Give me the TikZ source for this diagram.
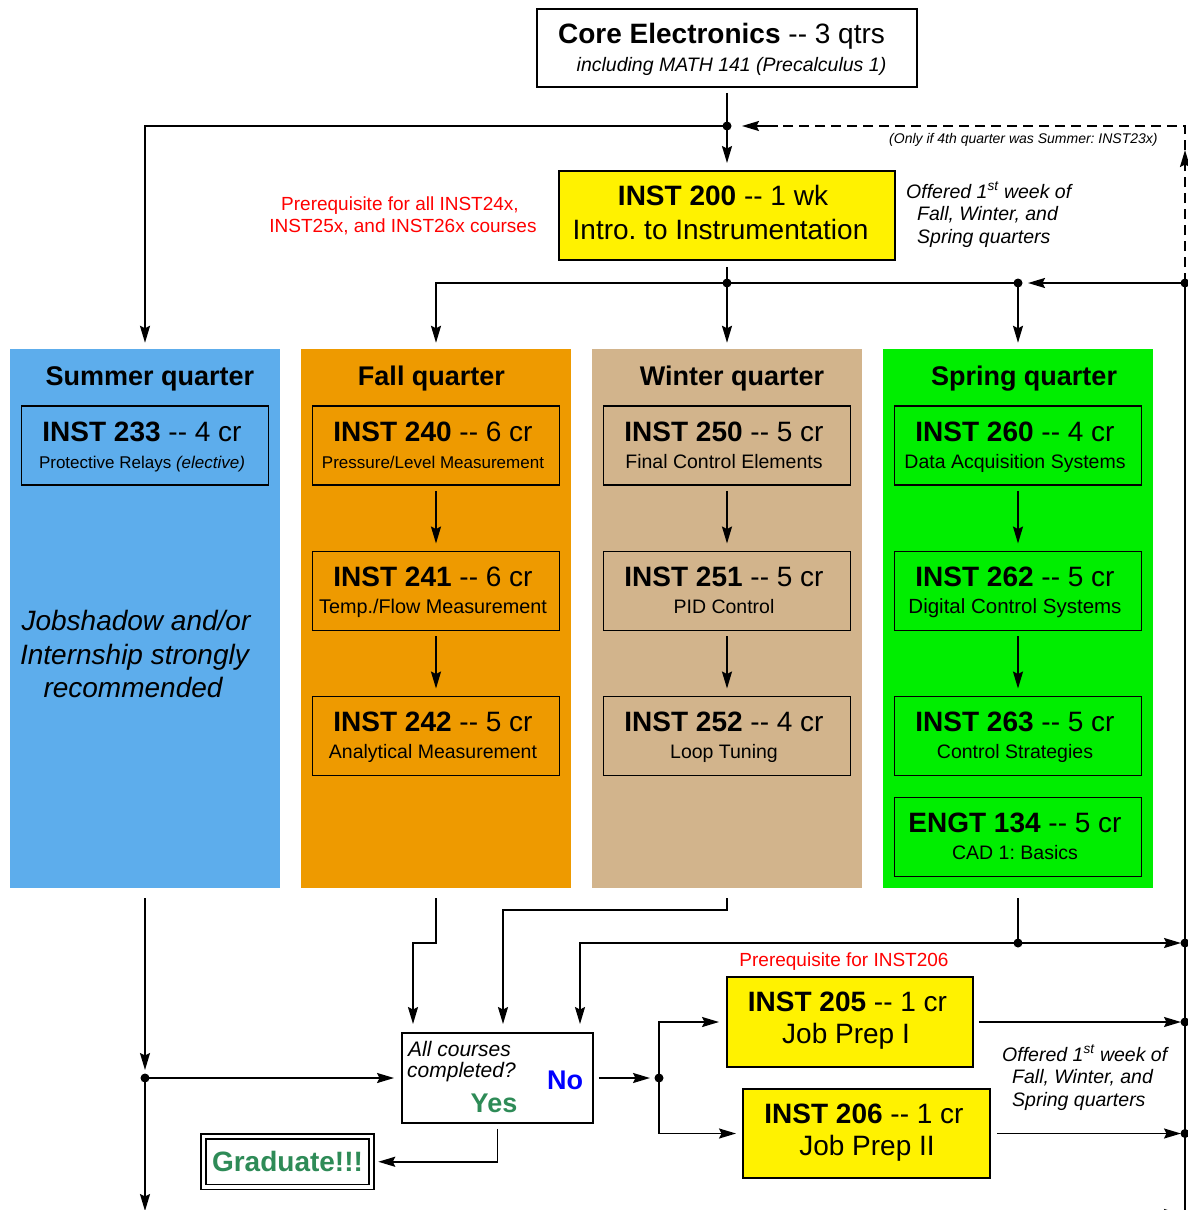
\documentclass[tikz,border=0pt]{standalone}
\usepackage{fontspec}
\setmainfont{Liberation Sans}
\usetikzlibrary{arrows.meta}
\definecolor{sumblue}{HTML}{5DADEC}
\definecolor{fallor}{HTML}{EE9A00}
\definecolor{wintan}{HTML}{D2B48C}
\definecolor{sprgr}{HTML}{00EE00}
\definecolor{yesgr}{HTML}{2E8B57}
\newcommand\fsz[1]{\fontsize{#1}{#1}\selectfont}
\newcommand\ddash{\mbox{-}\mbox{-}}
\newcommand\course[6]{%
  \node[crs] (#1) at (#2,#3) {};
  \path (#1.center) ++(-3,-4.5) node[txt] (#1a) {\fsz{28}\textbf{#4} \ddash{} #5};
  \path (#1.center) ++(-3,22.5) node[txt] (#1b) {#6};}
\frenchspacing
\begin{document}
\frenchspacing
\begin{tikzpicture}[x=1pt,y=-1pt,
  ln/.style={line width=1.9pt},
  arr/.style={line width=1.9pt,-{Stealth[length=17pt,width=10pt,inset=2.5pt]}},
  dsh/.style={line width=1.9pt,dash pattern=on 10pt off 6pt},
  box/.style={draw,line width=1.9pt,inner sep=0pt},
  col/.style={inner sep=0pt,minimum width=270pt,minimum height=539pt},
  crs/.style={box,minimum width=247pt,minimum height=79pt},
  txt/.style={inner sep=0pt,anchor=base},
  txtl/.style={inner sep=0pt,anchor=base west},
  ]
\useasboundingbox[fill=white] (0,0) rectangle (1187,1210);

% columns
\node[col,fill=sumblue] (sum) at (145,618.5) {};
\node[col,fill=fallor] (fal) at (436,618.5) {};
\node[col,fill=wintan] (win) at (727,618.5) {};
\node[col,fill=sprgr] (spr) at (1018,618.5) {};
\node[txt] (hsum) at (150,385) {\fsz{27}\bfseries Summer quarter};
\node[txt] (hfal) at (431.5,385) {\fsz{27}\bfseries Fall quarter};
\node[txt] (hwin) at (732,385) {\fsz{27}\bfseries Winter quarter};
\node[txt] (hspr) at (1024,385) {\fsz{27}\bfseries Spring quarter};

% course boxes
\course{i233}{145}{445.5}{INST 233}{4 cr}{\fsz{17}Protective Relays \textit{(elective)}}
\course{i240}{436}{445.5}{INST 240}{6 cr}{\fsz{17}Pressure/Level Measurement}
\course{i241}{436}{591}{INST 241}{6 cr}{\fsz{19.8}Temp./Flow Measurement}
\course{i242}{436}{736}{INST 242}{5 cr}{\fsz{19.5}Analytical Measurement}
\course{i250}{727}{445.5}{INST 250}{5 cr}{\fsz{19.5}Final Control Elements}
\course{i251}{727}{591}{INST 251}{5 cr}{\fsz{19.5}PID Control}
\course{i252}{727}{736}{INST 252}{4 cr}{\fsz{19.5}Loop Tuning}
\course{i260}{1018}{445.5}{INST 260}{4 cr}{\fsz{19.5}Data Acquisition Systems}
\course{i262}{1018}{591}{INST 262}{5 cr}{\fsz{20.5}Digital Control Systems}
\course{i263}{1018}{736}{INST 263}{5 cr}{\fsz{19.5}Control Strategies}
\course{e134}{1018}{837}{ENGT 134}{5 cr}{\fsz{19.5}CAD 1: Basics}

\node[txt] (js1) at (136,630) {\fsz{28}\itshape Jobshadow and/or};
\node[txt] (js2) at (134.5,664) {\fsz{28}\itshape Internship strongly};
\node[txt] (js3) at (133,697) {\fsz{28}\itshape recommended};

% top boxes
\node[box,minimum width=380pt,minimum height=78pt] (core) at (727,48) {};
\node[txt] (coret) at (721.5,43) {\fsz{28}\textbf{Core Electronics} \ddash{} 3 qtrs};
\node[txt] (cores) at (731.5,71) {\fsz{19.5}\itshape including MATH 141 (Precalculus 1)};

\node[box,fill=yellow,minimum width=336pt,minimum height=89pt] (i200) at (727,215.5) {};
\node[txt] (i200a) at (723,205) {\fsz{28}\textbf{INST 200} \ddash{} 1 wk};
\node[txt] (i200b) at (720.5,239) {\fsz{28}Intro. to Instrumentation};

\node[txt,text=red] (pr1) at (400,210) {\fsz{19}Prerequisite for all INST24x,};
\node[txt,text=red] (pr2) at (403,232) {\fsz{19}INST25x, and INST26x courses};

\node[txtl] (of1) at (906,198) {\fsz{19.5}\itshape Offered 1\textsuperscript{st} week of};
\node[txtl] (of2) at (917,220) {\fsz{19.5}\itshape Fall, Winter, and};
\node[txtl] (of3) at (917,243) {\fsz{19.5}\itshape Spring quarters};

\node[txtl] (only) at (889,143) {\fsz{14}\itshape (Only if 4th quarter was Summer: INST23x)};

% bottom boxes
\node[box,minimum width=191pt,minimum height=90pt] (dec) at (497.5,1078) {};
\node[txtl] (dq1) at (408,1056) {\fsz{21}\itshape All courses};
\node[txtl] (dq2) at (407,1077) {\fsz{21}\itshape completed?};
\node[txt,text=blue] (no) at (565,1089) {\fsz{27}\bfseries No};
\node[txt,text=yesgr] (yes) at (494,1112) {\fsz{27}\bfseries Yes};

\node[draw,line width=1.5pt,double,double distance=3.5pt,inner sep=0pt,
      minimum width=168pt,minimum height=50.5pt,text=yesgr] (grad) at (287.5,1161.75)
      {\fsz{28}\bfseries Graduate!!!};

\node[box,fill=yellow,minimum width=246pt,minimum height=90pt] (i205) at (850,1022) {};
\node[txt] (i205a) at (847.5,1011) {\fsz{28}\textbf{INST 205} \ddash{} 1 cr};
\node[txt] (i205b) at (846,1043) {\fsz{28}Job Prep I};
\node[box,fill=yellow,minimum width=247pt,minimum height=89pt] (i206) at (866.5,1133.5) {};
\node[txt] (i206a) at (864,1123) {\fsz{28}\textbf{INST 206} \ddash{} 1 cr};
\node[txt] (i206b) at (867,1155) {\fsz{28}Job Prep II};

\node[txt,text=red] (pr3) at (844,966) {\fsz{19}Prerequisite for INST206};
\node[txtl] (ob1) at (1002,1061) {\fsz{19.5}\itshape Offered 1\textsuperscript{st} week of};
\node[txtl] (ob2) at (1012,1083) {\fsz{19.5}\itshape Fall, Winter, and};
\node[txtl] (ob3) at (1012,1106) {\fsz{19.5}\itshape Spring quarters};

% junctions
\coordinate (j1) at (727,126);
\coordinate (j2) at (727,283);
\coordinate (j3) at (1018,283);
\coordinate (j4) at (1185,283);
\coordinate (dtop) at (1185,126);
\coordinate (dup) at (1185,150);
\coordinate (dsol) at (778,126);
\coordinate (jL) at (145,1078);
\coordinate (jLb) at (145,1211);
\coordinate (fk1) at (436,943);
\coordinate (fk2) at (413,943);
\coordinate (wk1) at (727,910);
\coordinate (wk2) at (503,910);
\coordinate (j5) at (1018,943);
\coordinate (sk) at (580,943);
\coordinate (r1) at (1185,943);
\coordinate (j6) at (659,1078);
\coordinate (r2) at (1185,1022);
\coordinate (r3) at (1185,1133.5);
\coordinate (rb) at (1185,1216);
\coordinate (rb2) at (1000,1214);
\coordinate (rb3) at (1185,1214);

% connectors (top)
\draw[ln,shorten <=5pt] (core.south) -- (j1);
\draw[arr,shorten >=7pt] (j1) -- (i200.north);
\draw[arr,shorten >=6pt] (j1) -| (sum.north);
\draw[ln,shorten <=6pt] (i200.south) -- (j2);
\draw[arr,shorten >=6pt] (j2) -- (win.north);
\draw[arr,shorten >=6pt] (j2) -| (fal.north);
\draw[ln] (j2) -- (j3);
\draw[arr,shorten >=6pt] (j3) -- (spr.north);
\draw[arr,shorten >=10pt] (j4) -- (j3);
\draw[dsh,-{Stealth[length=17pt,width=10pt,inset=2.5pt]}] (j4) -- (dup);
\draw[dsh] (dup) -- (dtop) -- (dsol);
\draw[arr,shorten >=15pt] (dsol) -- (j1);

% course arrows
\draw[arr,shorten <=5pt,shorten >=7pt] (i240) -- (i241);
\draw[arr,shorten <=5pt,shorten >=7pt] (i241) -- (i242);
\draw[arr,shorten <=5pt,shorten >=7pt] (i250) -- (i251);
\draw[arr,shorten <=5pt,shorten >=7pt] (i251) -- (i252);
\draw[arr,shorten <=5pt,shorten >=7pt] (i260) -- (i262);
\draw[arr,shorten <=5pt,shorten >=7pt] (i262) -- (i263);

% connectors (bottom)
\draw[arr,shorten <=10pt,shorten >=8pt] (sum.south) -- (jL);
\draw[arr] (jL) -- (jLb);
\draw[arr,shorten >=7pt] (jL) -- (dec.west);
\draw[arr,shorten <=10pt,shorten >=8pt] (fal.south) -- (fk1) -- (fk2) -- (fk2 |- dec.north);
\draw[arr,shorten <=10pt,shorten >=8pt] (win.south) -- (wk1) -- (wk2) -- (wk2 |- dec.north);
\draw[ln,shorten <=10pt] (spr.south) -- (j5);
\draw[arr,shorten >=8pt] (j5) -- (sk) -- (sk |- dec.north);
\draw[arr,shorten >=4pt] (j5) -- (r1);
\draw[arr,shorten <=5pt,shorten >=9pt] (dec.east) -- (j6);
\draw[arr,shorten >=7pt] (j6) |- (i205.west);
\draw[arr,shorten >=6pt] (j6) |- (i206.west);
\draw[arr,shorten <=5pt,shorten >=4pt] (i205.east) -- (r2);
\draw[arr,shorten <=6pt,shorten >=4pt] (i206.east) -- (r3);
\draw[arr,shorten <=5pt,shorten >=6pt] (dec.south) |- (grad.east);
\draw[ln] (rb) -- (j4);
\draw[arr,shorten >=4pt] (rb2) -- (rb3);

% dots
\foreach \p in {j1,j2,j3,j4,jL,j5,j6,r1,r2,r3} \fill (\p) circle (4.5pt);
\end{tikzpicture}
\end{document}
